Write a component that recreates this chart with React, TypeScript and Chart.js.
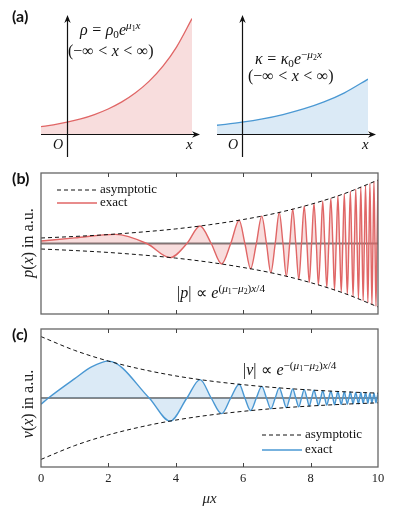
import React, { useEffect, useRef } from "react";
import { Chart, registerables } from "chart.js";
Chart.register(...registerables);

// ---------------- data ----------------
// panel (a) left: rho curve
const rhoX = [-0.475, -0.25, 0, 0.25, 0.5, 0.75, 1.0, 1.25, 1.5, 1.75, 2.0, 2.28];
const rhoY = [0.62, 0.78, 1.0, 1.28, 1.65, 2.12, 2.72, 3.49, 4.48, 5.75, 7.39, 9.78];
// panel (a) right: kappa curve
const kappaX = [-0.305, 0, 0.25, 0.5, 0.75, 1.0, 1.25, 1.537];
const kappaY = [0.74, 1.0, 1.28, 1.65, 2.12, 2.72, 3.49, 4.65];

// envelopes (asymptotic) for (b) and (c)
const envX = [0, 1, 2, 3, 4, 5, 6, 7, 8, 9, 10];
const envP = [0.078, 0.1, 0.127, 0.163, 0.207, 0.266, 0.34, 0.433, 0.555, 0.707, 0.9];
const envV = [0.89, 0.69, 0.535, 0.415, 0.32, 0.248, 0.193, 0.149, 0.116, 0.09, 0.07];

// exact curves: leading part
const pHeadX = [0, 1.0, 2.2, 3.14];
const pHeadY = [0.035, 0.08, 0.13, 0];
const vHeadX = [0, 0.22, 1.0, 1.5, 2.0, 3.21];
const vHeadY = [-0.09, 0, 0.28, 0.45, 0.535, 0];

// exact curves: oscillating part (extrema and zero crossings)
const oscX = [3.83, 4.33, 4.72, 5.05, 5.36, 5.63, 5.88, 6.05, 6.22, 6.39, 6.55, 6.69, 6.82, 6.95, 7.07,
  7.18, 7.28, 7.38, 7.47, 7.56, 7.65, 7.73, 7.81, 7.89, 7.96, 8.03, 8.10, 8.17, 8.23, 8.30, 8.36, 8.42,
  8.48, 8.54, 8.60, 8.66, 8.71, 8.76, 8.81, 8.86, 8.91, 8.955, 9.00, 9.045, 9.09, 9.135, 9.18, 9.22,
  9.26, 9.30, 9.34, 9.38, 9.42, 9.455, 9.49, 9.525, 9.56, 9.595, 9.63, 9.665, 9.70, 9.73, 9.76, 9.79,
  9.82, 9.85, 9.88, 9.91, 9.94, 9.97, 10.0];
const pTail = [-0.20, 0, 0.248, 0, -0.29,
  0, 0.33, 0, -0.358, 0,
  0.388, 0, -0.415, 0, 0.44,
  0, -0.464, 0, 0.487, 0,
  -0.51, 0, 0.53, 0, -0.55,
  0, 0.568, 0, -0.586, 0,
  0.605, 0, -0.623, 0, 0.64,
  0, -0.66, 0, 0.675, 0,
  -0.69, 0, 0.707, 0, -0.723,
  0, 0.74, 0, -0.754, 0,
  0.77, 0, -0.784, 0, 0.80,
  0, -0.81, 0, 0.825, 0,
  -0.84, 0, 0.85, 0, -0.865,
  0, 0.88, 0, -0.89, 0,
  0.90];
const vTail = [-0.335, 0, 0.267, 0, -0.227,
  0, 0.199, 0, -0.182, 0,
  0.168, 0, -0.156, 0, 0.147,
  0, -0.139, 0, 0.132, 0,
  -0.126, 0, 0.121, 0, -0.117,
  0, 0.113, 0, -0.109, 0,
  0.106, 0, -0.102, 0, 0.099,
  0, -0.097, 0, 0.094, 0,
  -0.092, 0, 0.090, 0, -0.088,
  0, 0.086, 0, -0.084, 0,
  0.082, 0, -0.081, 0, 0.079,
  0, -0.078, 0, 0.076, 0,
  -0.075, 0, 0.074, 0, -0.073,
  0, 0.072, 0, -0.0705, 0,
  0.0695];

const xTicks = [0, 2, 4, 6, 8, 10];
const innerTicks = [2, 4, 6, 8];

// ---------------- styles ----------------
const SERIF = '"Liberation Serif", "Times New Roman", serif';
const RED = "#e06666";
const RED_FILL = "rgba(224,102,102,0.22)";
const BLUE = "#4a98d3";
const BLUE_FILL = "rgba(74,152,211,0.2)";

const pts = (xs: number[], ys: number[]) => xs.map((x, i) => ({ x, y: ys[i] }));
const neg = (ys: number[]) => ys.map((v) => -v);

function arrowHead(ctx: CanvasRenderingContext2D, tx: number, ty: number, dir: "up" | "right") {
  ctx.save();
  ctx.translate(tx, ty);
  ctx.rotate(dir === "up" ? -Math.PI / 2 : 0);
  ctx.beginPath();
  ctx.moveTo(0, 0);
  ctx.lineTo(-8, -3.2);
  ctx.lineTo(-5.5, 0);
  ctx.lineTo(-8, 3.2);
  ctx.closePath();
  ctx.fill();
  ctx.restore();
}

const arrowAxesPlugin = {
  id: "arrowAxes",
  afterDatasetsDraw(chart: any) {
    const { ctx, chartArea: ca, scales } = chart;
    const y0 = Math.round(scales.y.getPixelForValue(0)) + 0.5;
    const x0 = Math.round(scales.x.getPixelForValue(0)) + 0.5;
    ctx.save();
    ctx.strokeStyle = "#111";
    ctx.fillStyle = "#111";
    ctx.lineWidth = 1.2;
    const xEnd = ca.right + 8;
    ctx.beginPath();
    ctx.moveTo(ca.left, y0);
    ctx.lineTo(xEnd - 3, y0);
    ctx.stroke();
    arrowHead(ctx, xEnd, y0, "right");
    const yTop = ca.top - 1;
    ctx.beginPath();
    ctx.moveTo(x0, chart.height - 3);
    ctx.lineTo(x0, yTop + 3);
    ctx.stroke();
    arrowHead(ctx, x0, yTop, "up");
    ctx.restore();
  },
};

function framePlugin(zeroColor: string, zeroWidth: number) {
  return {
    id: "frame",
    beforeDatasetsDraw(chart: any) {
      const { ctx, chartArea: ca, scales } = chart;
      const y0 = scales.y.getPixelForValue(0);
      ctx.save();
      ctx.strokeStyle = zeroColor;
      ctx.lineWidth = zeroWidth;
      ctx.beginPath();
      ctx.moveTo(ca.left, y0);
      ctx.lineTo(ca.right, y0);
      ctx.stroke();
      ctx.restore();
    },
    afterDatasetsDraw(chart: any) {
      const { ctx, chartArea: ca, scales } = chart;
      ctx.save();
      ctx.strokeStyle = "#666";
      ctx.lineWidth = 1.3;
      ctx.strokeRect(ca.left, ca.top, ca.right - ca.left, ca.bottom - ca.top);
      ctx.lineWidth = 1;
      ctx.strokeStyle = "#444";
      innerTicks.forEach((v) => {
        const x = Math.round(scales.x.getPixelForValue(v)) + 0.5;
        ctx.beginPath();
        ctx.moveTo(x, ca.bottom);
        ctx.lineTo(x, ca.bottom - 4);
        ctx.moveTo(x, ca.top);
        ctx.lineTo(x, ca.top + 4);
        ctx.stroke();
      });
      ctx.restore();
    },
  };
}

function legendPlugin(color: string, corner: "tl" | "br") {
  return {
    id: "customLegend",
    afterDraw(chart: any) {
      const { ctx, chartArea: ca } = chart;
      const x0 = corner === "tl" ? ca.left + 16 : ca.right - 116;
      const y1 = corner === "tl" ? ca.top + 17 : ca.bottom - 32;
      const y2 = corner === "tl" ? ca.top + 30 : ca.bottom - 17;
      ctx.save();
      ctx.strokeStyle = "#111";
      ctx.lineWidth = 1;
      ctx.setLineDash([4, 3]);
      ctx.beginPath();
      ctx.moveTo(x0, y1);
      ctx.lineTo(x0 + 40, y1);
      ctx.stroke();
      ctx.setLineDash([]);
      ctx.strokeStyle = color;
      ctx.lineWidth = 1.5;
      ctx.beginPath();
      ctx.moveTo(x0, y2);
      ctx.lineTo(x0 + 40, y2);
      ctx.stroke();
      ctx.fillStyle = "#111";
      ctx.font = `13px ${SERIF}`;
      ctx.textBaseline = "middle";
      ctx.fillText("asymptotic", x0 + 43, y1);
      ctx.fillText("exact", x0 + 43, y2);
      ctx.restore();
    },
  };
}

function expConfig(xs: number[], ys: number[], xmin: number, xmax: number, color: string, fill: string, padding: any) {
  return {
    type: "line",
    data: {
      datasets: [
        {
          data: pts(xs, ys),
          borderColor: color,
          borderWidth: 1.3,
          backgroundColor: fill,
          fill: "origin",
          pointRadius: 0,
          cubicInterpolationMode: "monotone",
        },
      ],
    },
    options: {
      responsive: false,
      animation: false,
      events: [],
      layout: { padding },
      plugins: { legend: { display: false }, tooltip: { enabled: false } },
      scales: {
        x: { type: "linear", min: xmin, max: xmax, display: false },
        y: { type: "linear", min: 0, max: 10, display: false },
      },
    },
    plugins: [arrowAxesPlugin],
  };
}

function oscConfig(o: {
  env: number[]; cx: number[]; cy: number[]; color: string; fill: string;
  zeroColor: string; zeroWidth: number; corner: "tl" | "br"; showX: boolean; padding: any;
}) {
  const dashed = { borderColor: "#111", borderWidth: 1, borderDash: [4, 3], pointRadius: 0, fill: false, cubicInterpolationMode: "monotone" };
  return {
    type: "line",
    data: {
      datasets: [
        { ...dashed, data: pts(envX, o.env) },
        { ...dashed, data: pts(envX, neg(o.env)) },
        {
          data: pts(o.cx, o.cy),
          borderColor: o.color,
          borderWidth: 1.4,
          backgroundColor: o.fill,
          fill: "origin",
          pointRadius: 0,
          cubicInterpolationMode: "monotone",
        },
      ],
    },
    options: {
      responsive: false,
      animation: false,
      events: [],
      layout: { padding: o.padding },
      plugins: { legend: { display: false }, tooltip: { enabled: false } },
      scales: {
        x: o.showX
          ? {
              type: "linear",
              min: 0,
              max: 10,
              display: true,
              afterBuildTicks: (s: any) => {
                s.ticks = xTicks.map((v) => ({ value: v }));
              },
              grid: { display: false, drawTicks: false },
              border: { display: false },
              ticks: { font: { family: SERIF, size: 12.5 }, color: "#222", padding: 4, maxRotation: 0, autoSkip: false },
              title: { display: true, text: "μx", font: { family: SERIF, size: 15, style: "italic" }, color: "#222", padding: { top: 0, bottom: 0 } },
            }
          : { type: "linear", min: 0, max: 10, display: false },
        y: { type: "linear", min: -1, max: 1, display: false },
      },
    },
    plugins: [framePlugin(o.zeroColor, o.zeroWidth), legendPlugin(o.color, o.corner)],
  };
}

function ChartCanvas(props: { left: number; top: number; width: number; height: number; make: () => any }) {
  const ref = useRef<HTMLCanvasElement>(null);
  useEffect(() => {
    const chart = new Chart(ref.current as HTMLCanvasElement, props.make());
    return () => chart.destroy();
  }, []);
  return (
    <canvas
      ref={ref}
      width={props.width}
      height={props.height}
      style={{ position: "absolute", left: props.left, top: props.top, width: props.width, height: props.height, display: "block" }}
    />
  );
}

// ---------------- text helpers ----------------
const I = ({ children }: any) => <span style={{ fontStyle: "italic" }}>{children}</span>;
const Sup = ({ children }: any) => (
  <span style={{ fontSize: "0.7em", verticalAlign: "0.5em", lineHeight: 0 }}>{children}</span>
);
const Sub = ({ children }: any) => (
  <span style={{ fontSize: "0.7em", verticalAlign: "-0.25em", lineHeight: 0 }}>{children}</span>
);
const Rel = ({ children }: any) => <span style={{ margin: "0 0.28em" }}>{children}</span>;

function T(props: { x: number; base: number; size?: number; children: any; style?: any }) {
  const size = props.size ?? 14;
  return (
    <div
      style={{
        position: "absolute",
        left: props.x,
        top: props.base - 0.8375 * size,
        fontFamily: SERIF,
        fontSize: size,
        lineHeight: 1,
        whiteSpace: "nowrap",
        color: "#111",
        ...props.style,
      }}
    >
      {props.children}
    </div>
  );
}

function PanelLabel(props: { x: number; y: number; text: string }) {
  return (
    <div
      style={{
        position: "absolute",
        left: props.x,
        top: props.y,
        fontFamily: "Lato, 'Open Sans', sans-serif",
        fontWeight: 700,
        fontSize: 16,
        lineHeight: 1,
        color: "#111",
      }}
    >
      {props.text}
    </div>
  );
}

function YLabel(props: { cx: number; cy: number; v: string }) {
  return (
    <div
      style={{
        position: "absolute",
        left: props.cx,
        top: props.cy,
        transform: "translate(-50%, -50%) rotate(-90deg)",
        fontFamily: SERIF,
        fontSize: 16,
        lineHeight: 1,
        whiteSpace: "nowrap",
        color: "#222",
      }}
    >
      <I>{props.v}</I>(<I>x</I>) in a.u.
    </div>
  );
}

const Range = () => (
  <span>
    (−∞<Rel>&lt;</Rel><I>x</I><Rel>&lt;</Rel>∞)
  </span>
);

export default function App() {
  return (
    <div style={{ position: "fixed", left: 0, top: 0, width: 399, height: 509, background: "#fff", overflow: "hidden" }}>
      <ChartCanvas
        left={0}
        top={0}
        width={200}
        height={160}
        make={() => expConfig(rhoX, rhoY, -0.475, 2.28, RED, RED_FILL, { left: 41, right: 8, top: 16, bottom: 26 })}
      />
      <ChartCanvas
        left={200}
        top={0}
        width={199}
        height={160}
        make={() => expConfig(kappaX, kappaY, -0.305, 1.537, BLUE, BLUE_FILL, { left: 17, right: 31, top: 16, bottom: 26 })}
      />
      <ChartCanvas
        left={0}
        top={160}
        width={399}
        height={165}
        make={() =>
          oscConfig({
            env: envP,
            cx: [...pHeadX, ...oscX],
            cy: [...pHeadY, ...pTail],
            color: RED,
            fill: RED_FILL,
            zeroColor: "#777",
            zeroWidth: 2,
            corner: "tl",
            showX: false,
            padding: { left: 41, right: 21, top: 13, bottom: 11 },
          })
        }
      />
      <ChartCanvas
        left={0}
        top={325}
        width={399}
        height={184}
        make={() =>
          oscConfig({
            env: envV,
            cx: [...vHeadX, ...oscX],
            cy: [...vHeadY, ...vTail],
            color: BLUE,
            fill: BLUE_FILL,
            zeroColor: "#111",
            zeroWidth: 1,
            corner: "br",
            showX: true,
            padding: { left: 41, right: 21, top: 4, bottom: 1 },
          })
        }
      />

      <PanelLabel x={12} y={8} text="(a)" />
      <PanelLabel x={12} y={170} text="(b)" />
      <PanelLabel x={12} y={326} text="(c)" />

      {/* panel (a) texts */}
      <T x={80} base={35} size={16}>
        <I>ρ</I>
        <Rel>=</Rel>
        <I>ρ</I>
        <Sub>0</Sub>
        <I>e</I>
        <Sup>
          <I>μ</I>
          <Sub>1</Sub>
          <I>x</I>
        </Sup>
      </T>
      <T x={68} base={56} size={16}>
        <Range />
      </T>
      <T x={53} base={150} size={14}>
        <I>O</I>
      </T>
      <T x={186} base={150} size={15}>
        <I>x</I>
      </T>

      <T x={255} base={64} size={16}>
        <I>κ</I>
        <Rel>=</Rel>
        <I>κ</I>
        <Sub>0</Sub>
        <I>e</I>
        <Sup>
          −<I>μ</I>
          <Sub>2</Sub>
          <I>x</I>
        </Sup>
      </T>
      <T x={248} base={81} size={16}>
        <Range />
      </T>
      <T x={228} base={150} size={14}>
        <I>O</I>
      </T>
      <T x={362} base={150} size={15}>
        <I>x</I>
      </T>

      {/* panel (b) */}
      <YLabel cx={28} cy={243} v="p" />
      <T x={177} base={298} size={16}>
        |<I>p</I>|<Rel>∝</Rel>
        <I>e</I>
        <Sup>
          (<I>μ</I>
          <Sub>1</Sub>−<I>μ</I>
          <Sub>2</Sub>)<I>x</I>/4
        </Sup>
      </T>

      {/* panel (c) */}
      <YLabel cx={28} cy={404} v="v" />
      <T x={243} base={375} size={16}>
        |<I>v</I>|<Rel>∝</Rel>
        <I>e</I>
        <Sup>
          −(<I>μ</I>
          <Sub>1</Sub>−<I>μ</I>
          <Sub>2</Sub>)<I>x</I>/4
        </Sup>
      </T>
    </div>
  );
}
